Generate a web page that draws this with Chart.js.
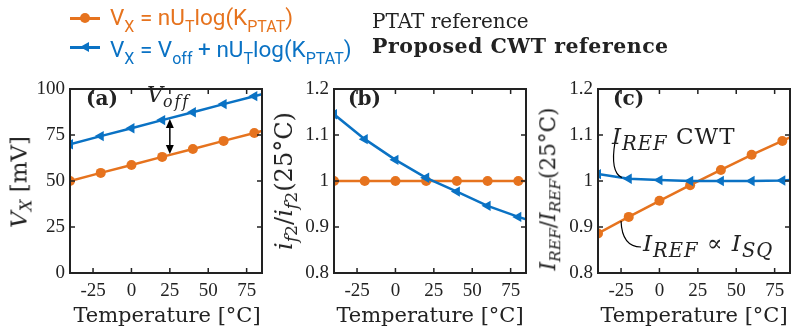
<!DOCTYPE html>
<html>
<head>
<meta charset="utf-8">
<script src="https://cdn.jsdelivr.net/npm/chart.js@4.4.1/dist/chart.umd.min.js"></script>
<style>
body { margin: 0; width: 797px; height: 332px; background: #fff; position: relative; overflow: hidden; color: #222; font-family: 'DejaVu Serif', serif; }
.panel { position: absolute; top: 50px; height: 282px; }
.t { position: absolute; white-space: nowrap; line-height: 1; }
.sans { font-family: Roboto, sans-serif; font-size: 22.5px; }
.sans .s { position: relative; top: 7px; font-size: 16px; }
.s { position: relative; top: 0.3em; font-size: 72%; }
.rot { transform: translate(-50%, -50%) rotate(-90deg); }
.xt { transform: translateX(-50%); font-size: 21px; }
</style>
</head>
<body>
<div class="panel" style="left:0;width:268px"><canvas id="chartA"></canvas></div>
<div class="panel" style="left:265px;width:268px"><canvas id="chartB"></canvas></div>
<div class="panel" style="left:530px;width:267px"><canvas id="chartC"></canvas></div>

<!-- legend -->
<div style="position:absolute;left:70px;top:17px;width:30px;height:2.5px;background:#e6731e"></div>
<div style="position:absolute;left:80px;top:13px;width:10px;height:10px;border-radius:50%;background:#e6731e"></div>
<div style="position:absolute;left:70px;top:46px;width:30px;height:2.5px;background:#0a72c4"></div>
<div style="position:absolute;left:80px;top:42px;width:0;height:0;border-top:5.5px solid transparent;border-bottom:5.5px solid transparent;border-right:9px solid #0a72c4"></div>
<div class="t sans" style="left:110px;top:6px;color:#e6731e">V<span class="s">X</span> = nU<span class="s">T</span>log(K<span class="s">PTAT</span>)</div>
<div class="t sans" style="left:110px;top:38px;color:#0a72c4">V<span class="s">X</span> = V<span class="s">off</span> + nU<span class="s">T</span>log(K<span class="s">PTAT</span>)</div>
<div class="t" style="left:372px;top:11px;font-size:20px">PTAT reference</div>
<div class="t" style="left:372px;top:36px;font-size:20.5px;font-weight:bold;letter-spacing:0.5px">Proposed CWT reference</div>

<!-- panel labels and annotations -->
<div class="t" style="left:86px;top:88px;font-size:20px;font-weight:bold">(a)</div>
<div class="t" style="left:348px;top:88px;font-size:20px;font-weight:bold">(b)</div>
<div class="t" style="left:613px;top:88px;font-size:20px;font-weight:bold">(c)</div>
<div class="t" style="left:147px;top:84px;font-size:22px"><i>V</i><span class="s" style="letter-spacing:2px"><i>off</i></span></div>
<div class="t" style="left:612px;top:125px;font-size:23px;letter-spacing:1px"><i>I</i><span class="s" style="font-size:85%"><i>REF</i></span> CWT</div>
<div class="t" style="left:643px;top:232px;font-size:23px;letter-spacing:1px"><i>I</i><span class="s" style="font-size:85%"><i>REF</i></span> ∝ <i>I</i><span class="s" style="font-size:85%"><i>SQ</i></span></div>

<!-- axis titles -->
<div class="t rot" style="left:19px;top:182px;font-size:23px"><i>V</i><span class="s"><i>X</i></span> [mV]</div>
<div class="t rot" style="left:284px;top:181px;font-size:24px"><i>i</i><span class="s"><i>f</i>2</span>/<i>i</i><span class="s"><i>f</i>2</span>(25°C)</div>
<div class="t rot" style="left:548px;top:189px;font-size:21.5px"><i>I</i><span class="s"><i>REF</i></span>/<i>I</i><span class="s"><i>REF</i></span>(25°C)</div>
<div class="t xt" style="left:167px;top:305px">Temperature [°C]</div>
<div class="t xt" style="left:430px;top:305px">Temperature [°C]</div>
<div class="t xt" style="left:694px;top:305px">Temperature [°C]</div>

<script>
const temps = [-40, -20, 0, 20, 40, 60, 80, 85];
const vxPtat = [50.0, 54.4, 58.7, 63.1, 67.4, 71.8, 76.1, 77.2];
const vxCwt = [70.0, 74.4, 78.7, 83.1, 87.4, 91.8, 96.1, 97.2];
const if2Ptat = [1, 1, 1, 1, 1, 1, 1, 1];
const if2Cwt = [1.145, 1.091, 1.046, 1.007, 0.977, 0.946, 0.922, 0.917];
const irefPtat = [0.886, 0.922, 0.957, 0.991, 1.024, 1.057, 1.087, 1.095];
const irefCwt = [1.015, 1.005, 1.002, 1.0, 1.0, 1.0, 1.001, 1.002];

const xTicks = [-25, 0, 25, 50, 75];
const vxTicks = [0, 25, 50, 75, 100];
const ratioTicks = [0.8, 0.9, 1, 1.1, 1.2];

const orange = '#e6731e';
const blue = '#0a72c4';
const ink = '#222';

Chart.defaults.font.family = "'Liberation Serif', serif";
Chart.defaults.font.size = 19;
Chart.defaults.color = ink;

function interp(xs, ys, t) {
    for (let i = 1; i < xs.length; i++) {
        if (t <= xs[i]) {
            const f = (t - xs[i - 1]) / (xs[i] - xs[i - 1]);
            return ys[i - 1] + f * (ys[i] - ys[i - 1]);
        }
    }
    return ys[ys.length - 1];
}

function series(ys, color, tri) {
    return {
        data: temps.map((t, i) => ({ x: t, y: ys[i] })),
        borderColor: color,
        backgroundColor: color,
        borderWidth: 2.5,
        pointStyle: tri ? 'triangle' : 'circle',
        pointRotation: tri ? -90 : 0,
        pointRadius: ctx => temps[ctx.dataIndex] % 20 === 0 ? (tri ? 6 : 5) : 0,
        pointBorderWidth: 0,
        pointHoverRadius: 0,
        tension: 0,
        clip: 0
    };
}

// box with inward ticks on all four sides
const boxPlugin = {
    id: 'box',
    afterDatasetsDraw(chart) {
        const { ctx, chartArea: a, scales: { x, y } } = chart;
        ctx.save();
        ctx.strokeStyle = ink;
        ctx.lineWidth = 1.5;
        ctx.beginPath();
        x.ticks.forEach(t => {
            const px = x.getPixelForValue(t.value);
            ctx.moveTo(px, a.bottom); ctx.lineTo(px, a.bottom - 5);
            ctx.moveTo(px, a.top); ctx.lineTo(px, a.top + 5);
        });
        y.ticks.forEach(t => {
            const py = y.getPixelForValue(t.value);
            ctx.moveTo(a.left, py); ctx.lineTo(a.left + 5, py);
            ctx.moveTo(a.right, py); ctx.lineTo(a.right - 5, py);
        });
        ctx.stroke();
        ctx.lineWidth = 2;
        ctx.strokeRect(a.left, a.top, a.right - a.left, a.bottom - a.top);
        ctx.restore();
    }
};

function makeChart(id, datasets, yMin, yMax, yTicks, yWidth, padRight, extra) {
    const plugins = [boxPlugin];
    if (extra) plugins.push({ id: id + 'Extra', afterDatasetsDraw: extra });
    return new Chart(document.getElementById(id), {
        type: 'line',
        data: { datasets: datasets },
        options: {
            responsive: true,
            maintainAspectRatio: false,
            animation: false,
            events: [],
            layout: { padding: { top: 39, right: padRight, left: 0, bottom: 0 } },
            plugins: { legend: { display: false }, tooltip: { enabled: false } },
            scales: {
                x: {
                    type: 'linear',
                    min: -40,
                    max: 85,
                    grid: { display: false, drawTicks: false },
                    border: { display: false },
                    ticks: { padding: 7, maxRotation: 0, callback: v => String(v) },
                    afterBuildTicks: s => { s.ticks = xTicks.map(v => ({ value: v })); },
                    afterFit: s => { s.height = 59; }
                },
                y: {
                    min: yMin,
                    max: yMax,
                    grid: { display: false, drawTicks: false },
                    border: { display: false },
                    ticks: { padding: 5, callback: v => String(+v.toFixed(2)) },
                    afterBuildTicks: s => { s.ticks = yTicks.map(v => ({ value: v })); },
                    afterFit: s => { s.width = yWidth; }
                }
            }
        },
        plugins: plugins
    });
}

function arrowHead(ctx, x, y, dir) {
    ctx.beginPath();
    ctx.moveTo(x, y);
    ctx.lineTo(x - 4, y + dir * 9);
    ctx.lineTo(x + 4, y + dir * 9);
    ctx.closePath();
    ctx.fill();
}

// (a) V_X with the V_off arrow at 25 °C
makeChart('chartA', [series(vxCwt, blue, true), series(vxPtat, orange, false)],
    0, 100, vxTicks, 70, 5, chart => {
        const { ctx, scales: { x, y } } = chart;
        const px = x.getPixelForValue(25);
        const top = y.getPixelForValue(interp(temps, vxCwt, 25));
        const bot = y.getPixelForValue(interp(temps, vxPtat, 25));
        ctx.save();
        ctx.strokeStyle = '#000';
        ctx.fillStyle = '#000';
        ctx.lineWidth = 1.5;
        ctx.beginPath();
        ctx.moveTo(px, top + 6);
        ctx.lineTo(px, bot - 6);
        ctx.stroke();
        arrowHead(ctx, px, top + 1, 1);
        arrowHead(ctx, px, bot - 1, -1);
        ctx.restore();
    });

// (b) normalised i_f2
makeChart('chartB', [series(if2Cwt, blue, true), series(if2Ptat, orange, false)],
    0.8, 1.2, ratioTicks, 69, 7);

// (c) normalised I_REF with leader curves to the labels
makeChart('chartC', [series(irefCwt, blue, true), series(irefPtat, orange, false)],
    0.8, 1.2, ratioTicks, 68, 7, chart => {
        const { ctx, scales: { x, y } } = chart;
        const ox = chart.canvas.parentNode.offsetLeft;
        const oy = chart.canvas.parentNode.offsetTop;
        const bx = x.getPixelForValue(-24.5);
        const by = y.getPixelForValue(interp(temps, irefCwt, -24.5));
        const rx = x.getPixelForValue(-25);
        const ry = y.getPixelForValue(interp(temps, irefPtat, -25));
        ctx.save();
        ctx.strokeStyle = '#000';
        ctx.lineWidth = 1.2;
        ctx.beginPath();
        ctx.moveTo(615 - ox, 142 - oy);
        ctx.quadraticCurveTo(610 - ox, 172 - oy, bx, by);
        ctx.moveTo(rx, ry);
        ctx.quadraticCurveTo(rx + 1, 247 - oy, 641 - ox, 247 - oy);
        ctx.stroke();
        ctx.restore();
    });
</script>
</body>
</html>
